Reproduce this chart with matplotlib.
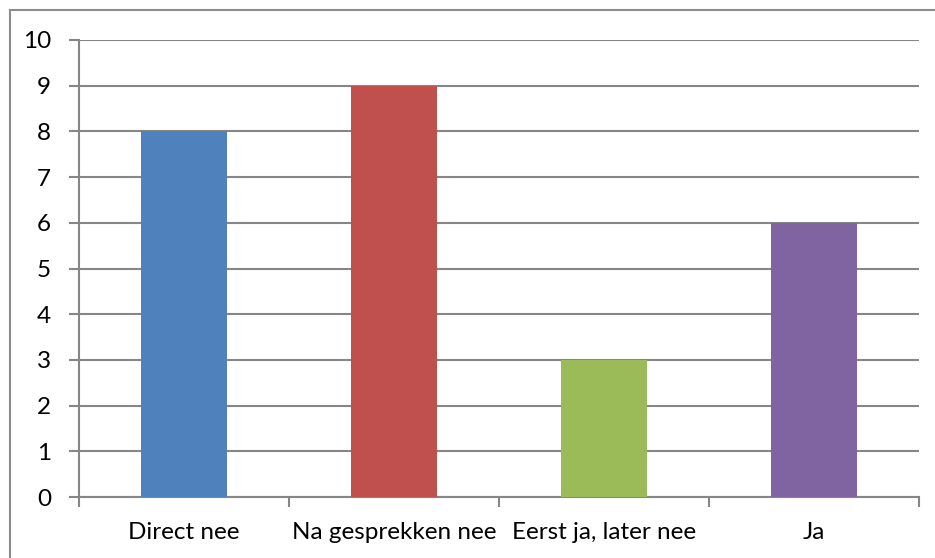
import numpy as np
import matplotlib.pyplot as plt
from matplotlib.patches import Rectangle

categories = ["Direct nee", "Na gesprekken nee", "Eerst ja, later nee", "Ja"]
values = [8, 9, 3, 6]
colors = ["#4F81BD", "#C0504D", "#9BBB59", "#8064A2"]

W, H = 935, 558
plt.rcParams["font.family"] = ["Lato", "DejaVu Sans"]

fig = plt.figure(figsize=(W / 100, H / 100), dpi=100)
ax = fig.add_axes([79 / W, 1 - 497 / H, (919 - 79) / W, (497 - 40) / H])

x = np.arange(len(categories))
ax.bar(x, values, width=0.405, color=colors, zorder=3)

grid_c = "#868686"
ax.set_ylim(0, 10)
ax.set_xlim(-0.5, len(categories) - 0.5)
ax.set_yticks(range(0, 11))
ax.yaxis.grid(True, color=grid_c, linewidth=1.5, zorder=0)

ax.set_xticks(x)
ax.set_xticklabels(categories)
ax.set_xticks(np.arange(-0.5, len(categories)), minor=True)
ax.tick_params(axis="x", which="major", length=0, pad=18, labelsize=17.5)
ax.tick_params(axis="x", which="minor", length=7, width=1.5, color=grid_c, direction="out")
ax.tick_params(axis="y", length=7, width=1.5, color=grid_c, pad=13, labelsize=17.5)

for side in ["top", "right"]:
    ax.spines[side].set_visible(False)
for side in ["left", "bottom"]:
    ax.spines[side].set_color(grid_c)
    ax.spines[side].set_linewidth(1.5)

# chart area border (only left/top visible in the crop)
fig.patches.append(Rectangle((10 / W, -0.2), 1.2, 1 - 10 / H + 0.2,
                             transform=fig.transFigure, fill=False,
                             edgecolor="#8C8C8C", linewidth=1.5))

fig.savefig("out.png", dpi=100)
